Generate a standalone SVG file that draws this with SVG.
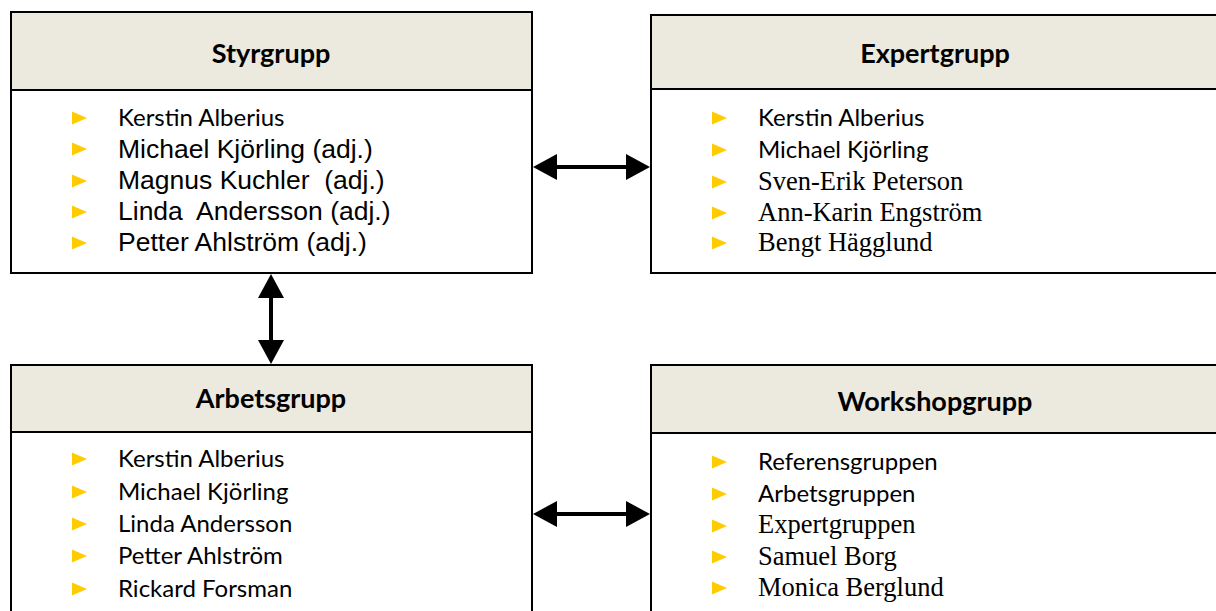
<svg xmlns="http://www.w3.org/2000/svg" width="1216" height="611" viewBox="0 0 1216 611">
  <style>
    .box { fill: #ffffff; stroke: #000000; stroke-width: 2; }
    .head { fill: #ECE9DF; stroke: #000000; stroke-width: 2; }
    .title { font-family: Lato, "Open Sans", sans-serif; font-weight: bold; font-size: 27px; fill: #000000; text-anchor: middle; }
    .cal { font-family: Lato, "Open Sans", sans-serif; font-size: 24px; fill: #000000; }
    .ari { font-family: "Liberation Sans", Arial, sans-serif; font-size: 26.5px; fill: #000000; }
    .tms { font-family: "Liberation Serif", "Times New Roman", serif; font-size: 26.5px; fill: #000000; }
    .bul { fill: #FFCC00; }
    .link { stroke: #000000; stroke-width: 4; fill: none; marker-start: url(#head); marker-end: url(#head); }
  </style>
  <defs>
    <marker id="head" markerUnits="userSpaceOnUse" markerWidth="25" markerHeight="27" refX="0" refY="13" orient="auto-start-reverse" viewBox="0 0 25 26">
      <path d="M0,0 L24,13 L0,26 Z" fill="#000000"/>
    </marker>
    <path id="tri" d="M0,-6.5 L15,0 L0,6.5 Z"/>
  </defs>

  <rect width="1216" height="611" fill="#ffffff"/>

  <g id="styrgrupp">
    <rect class="box" x="11" y="12" width="521" height="261"/>
    <rect class="head" x="11" y="12" width="521" height="78"/>
    <text class="title" x="271" y="63">Styrgrupp</text>
    <use href="#tri" class="bul" x="72" y="118"/>
    <use href="#tri" class="bul" x="72" y="149"/>
    <use href="#tri" class="bul" x="72" y="181"/>
    <use href="#tri" class="bul" x="72" y="212"/>
    <use href="#tri" class="bul" x="72" y="243"/>
    <text class="cal" x="118" y="126">Kerstin Alberius</text>
    <text class="ari" x="118" y="158">Michael Kjörling (adj.)</text>
    <text class="ari" x="118" y="189" xml:space="preserve">Magnus Kuchler  (adj.)</text>
    <text class="ari" x="118" y="220" xml:space="preserve">Linda  Andersson (adj.)</text>
    <text class="ari" x="118" y="251">Petter Ahlström (adj.)</text>
  </g>

  <g id="expertgrupp">
    <rect class="box" x="651" y="15" width="568" height="258"/>
    <rect class="head" x="651" y="15" width="568" height="74"/>
    <text class="title" x="935" y="63">Expertgrupp</text>
    <use href="#tri" class="bul" x="712" y="118"/>
    <use href="#tri" class="bul" x="712" y="150"/>
    <use href="#tri" class="bul" x="712" y="182"/>
    <use href="#tri" class="bul" x="712" y="213"/>
    <use href="#tri" class="bul" x="712" y="243"/>
    <text class="cal" x="758" y="126">Kerstin Alberius</text>
    <text class="cal" x="758" y="158">Michael Kjörling</text>
    <text class="tms" x="758" y="190">Sven-Erik Peterson</text>
    <text class="tms" x="758" y="221">Ann-Karin Engström</text>
    <text class="tms" x="758" y="251">Bengt Hägglund</text>
  </g>

  <g id="arbetsgrupp">
    <rect class="box" x="11" y="365" width="521" height="260"/>
    <rect class="head" x="11" y="365" width="521" height="67"/>
    <text class="title" x="271" y="408">Arbetsgrupp</text>
    <use href="#tri" class="bul" x="72" y="459"/>
    <use href="#tri" class="bul" x="72" y="492"/>
    <use href="#tri" class="bul" x="72" y="524"/>
    <use href="#tri" class="bul" x="72" y="556"/>
    <use href="#tri" class="bul" x="72" y="589"/>
    <text class="cal" x="118" y="467">Kerstin Alberius</text>
    <text class="cal" x="118" y="500">Michael Kjörling</text>
    <text class="cal" x="118" y="532">Linda Andersson</text>
    <text class="cal" x="118" y="564">Petter Ahlström</text>
    <text class="cal" x="118" y="597">Rickard Forsman</text>
  </g>

  <g id="workshopgrupp">
    <rect class="box" x="651" y="365" width="568" height="260"/>
    <rect class="head" x="651" y="365" width="568" height="68"/>
    <text class="title" x="935" y="411">Workshopgrupp</text>
    <use href="#tri" class="bul" x="712" y="462"/>
    <use href="#tri" class="bul" x="712" y="494"/>
    <use href="#tri" class="bul" x="712" y="526"/>
    <use href="#tri" class="bul" x="712" y="557"/>
    <use href="#tri" class="bul" x="712" y="588"/>
    <text class="cal" x="758" y="470">Referensgruppen</text>
    <text class="cal" x="758" y="502">Arbetsgruppen</text>
    <text class="tms" x="758" y="533">Expertgruppen</text>
    <text class="tms" x="758" y="565">Samuel Borg</text>
    <text class="tms" x="758" y="596">Monica Berglund</text>
  </g>

  <g id="connectors">
    <line class="link" x1="557" y1="167" x2="626" y2="167"/>
    <line class="link" x1="271" y1="298" x2="271" y2="340"/>
    <line class="link" x1="557" y1="514" x2="626" y2="514"/>
  </g>
</svg>
